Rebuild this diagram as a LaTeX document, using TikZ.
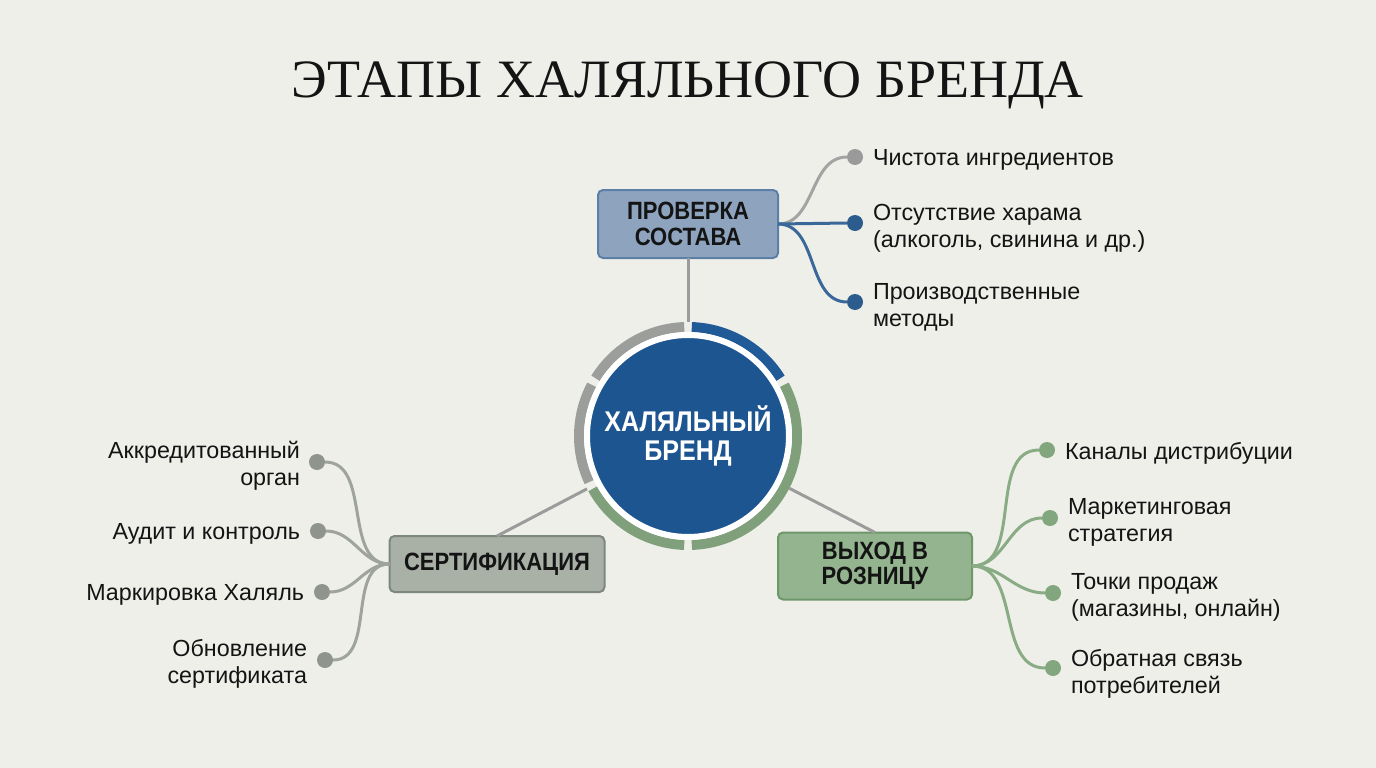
\documentclass[tikz,border=0pt]{standalone}
\usepackage{fontspec}
\setmainfont{Liberation Sans}
\newfontfamily\titlefont{Liberation Serif}
\newfontfamily\condfont[FakeStretch=0.88]{Liberation Sans}
\definecolor{bg}{HTML}{EFEFEA}
\definecolor{hubblue}{HTML}{1D5591}
\definecolor{segblue}{HTML}{215B97}
\definecolor{seggray}{HTML}{9C9E9B}
\definecolor{seggreen}{HTML}{7FA07A}
\definecolor{topfill}{HTML}{8EA4BE}
\definecolor{topdraw}{HTML}{5C7FA6}
\definecolor{leftfill}{HTML}{A9B1A7}
\definecolor{leftdraw}{HTML}{7D877B}
\definecolor{rightfill}{HTML}{93B48E}
\definecolor{rightdraw}{HTML}{6E976A}
\definecolor{dotgray}{HTML}{9A9A9A}
\definecolor{dotblue}{HTML}{2C5B8E}
\definecolor{leftdot}{HTML}{8F958E}
\definecolor{rightdot}{HTML}{82A67D}
\definecolor{linkgray}{HTML}{9B9B9B}
\definecolor{leftcurve}{HTML}{9EA39C}
\definecolor{rightcurve}{HTML}{89AC84}
\definecolor{topcurvegray}{HTML}{A3A3A3}
\definecolor{topcurveblue}{HTML}{3A6899}
\definecolor{ink}{HTML}{141414}
\tikzset{
  stagebox/.style={draw, line width=2pt, rounded corners=5pt, inner sep=0pt, outer sep=0pt,
     align=center, font=\condfont\bfseries\fontsize{25}{25.5}\selectfont, text=ink},
  leaftext/.style={inner sep=0pt, outer sep=0pt, font=\fontsize{23.3}{27}\selectfont, text=ink},
  dotnode/.style={circle, inner sep=0pt, outer sep=0pt, minimum size=16pt},
  link/.style={line width=3pt, draw=linkgray},
  branch/.style={line width=3pt},
  seg/.style={line width=10pt},
}
\begin{document}
\begin{tikzpicture}[x=1pt,y=-1pt]
\fill[bg] (0,0) rectangle (1376,768);
\useasboundingbox (0,0) rectangle (1376,768);

% title
\node[font=\titlefont\fontsize{54}{54}\selectfont, text=ink, inner sep=0pt, anchor=base] (title) at (688,97) {ЭТАПЫ ХАЛЯЛЬНОГО БРЕНДА};

% hub (outer ring boundary)
\node[circle, minimum size=228pt, inner sep=0pt, outer sep=0pt] (hub) at (688,436) {};

% stage boxes
\node[stagebox, fill=topfill, draw=topdraw, minimum width=180pt, minimum height=68pt] (top) at (688,224) {ПРОВЕРКА\\СОСТАВА};
\node[stagebox, fill=leftfill, draw=leftdraw, minimum width=215pt, minimum height=56pt] (cert) at (497,564) {СЕРТИФИКАЦИЯ};
\node[stagebox, fill=rightfill, draw=rightdraw, minimum width=194pt, minimum height=67pt] (retail) at (875,566) {ВЫХОД В\\РОЗНИЦУ};

% links hub - boxes
\draw[link] (top.south) -- (hub);
\draw[link] (cert.north) -- (hub);
\draw[link] (retail.north) -- (hub);

% ring segments
\draw[seg, draw=segblue] ([shift={(32:109pt)}]hub.center) arc[start angle=32, end angle=88, radius=109pt];
\draw[seg, draw=seggray] ([shift={(92:109pt)}]hub.center) arc[start angle=92, end angle=148, radius=109pt];
\draw[seg, draw=seggray] ([shift={(152:109pt)}]hub.center) arc[start angle=152, end angle=205, radius=109pt];
\draw[seg, draw=seggreen] ([shift={(209:109pt)}]hub.center) arc[start angle=209, end angle=268, radius=109pt];
\draw[seg, draw=seggreen] ([shift={(272:109pt)}]hub.center) arc[start angle=272, end angle=388, radius=109pt];

% center circle
\node[circle, minimum size=202pt, inner sep=0pt, fill=hubblue, draw=white, line width=6pt,
      align=center, text=white, font=\condfont\bfseries\fontsize{28.5}{29}\selectfont] (core) at (688,436) {ХАЛЯЛЬНЫЙ\\БРЕНД};

% top group
\node[dotnode, fill=dotgray] (a1) at (855,157) {};
\node[dotnode, fill=dotblue] (a2) at (855,223) {};
\node[dotnode, fill=dotblue] (a3) at (855,302) {};
\draw[branch, draw=topcurvegray] (top.east) to[out=0,in=180] (a1.west);
\draw[branch, draw=topcurveblue] (top.east) -- (a2.west);
\draw[branch, draw=topcurveblue] (top.east) to[out=0,in=180] (a3.west);
\node[leaftext, anchor=west, align=left] (ta1) at (873,160) {Чистота ингредиентов};
\node[leaftext, anchor=west, align=left] (ta2) at (873,228) {Отсутствие харама\\(алкоголь, свинина и др.)};
\node[leaftext, anchor=west, align=left] (ta3) at (873,307) {Производственные\\методы};

% left group
\node[dotnode, fill=leftdot] (b1) at (317,462) {};
\node[dotnode, fill=leftdot] (b2) at (318,531) {};
\node[dotnode, fill=leftdot] (b3) at (322,592) {};
\node[dotnode, fill=leftdot] (b4) at (325,660) {};
\draw[branch, draw=leftcurve] (cert.west) to[out=180,in=0] (b1.east);
\draw[branch, draw=leftcurve] (cert.west) to[out=180,in=0] (b2.east);
\draw[branch, draw=leftcurve] (cert.west) to[out=180,in=0] (b3.east);
\draw[branch, draw=leftcurve] (cert.west) to[out=180,in=0] (b4.east);
\node[leaftext, anchor=east, align=right] (tb1) at (300,466) {Аккредитованный\\орган};
\node[leaftext, anchor=east, align=right] (tb2) at (300,534) {Аудит и контроль};
\node[leaftext, anchor=east, align=right] (tb3) at (304,595) {Маркировка Халяль};
\node[leaftext, anchor=east, align=right] (tb4) at (307,664) {Обновление\\сертификата};

% right group
\node[dotnode, fill=rightdot] (c1) at (1047,450) {};
\node[dotnode, fill=rightdot] (c2) at (1050,518) {};
\node[dotnode, fill=rightdot] (c3) at (1053,593) {};
\node[dotnode, fill=rightdot] (c4) at (1053,668) {};
\draw[branch, draw=rightcurve] (retail.east) to[out=0,in=180] (c1.west);
\draw[branch, draw=rightcurve] (retail.east) to[out=0,in=180] (c2.west);
\draw[branch, draw=rightcurve] (retail.east) to[out=0,in=180] (c3.west);
\draw[branch, draw=rightcurve] (retail.east) to[out=0,in=180] (c4.west);
\node[leaftext, anchor=west, align=left] (tc1) at (1065,453) {Каналы дистрибуции};
\node[leaftext, anchor=west, align=left] (tc2) at (1068,522) {Маркетинговая\\стратегия};
\node[leaftext, anchor=west, align=left] (tc3) at (1071,597) {Точки продаж\\(магазины, онлайн)};
\node[leaftext, anchor=west, align=left] (tc4) at (1071,674) {Обратная связь\\потребителей};
\end{tikzpicture}
\end{document}
